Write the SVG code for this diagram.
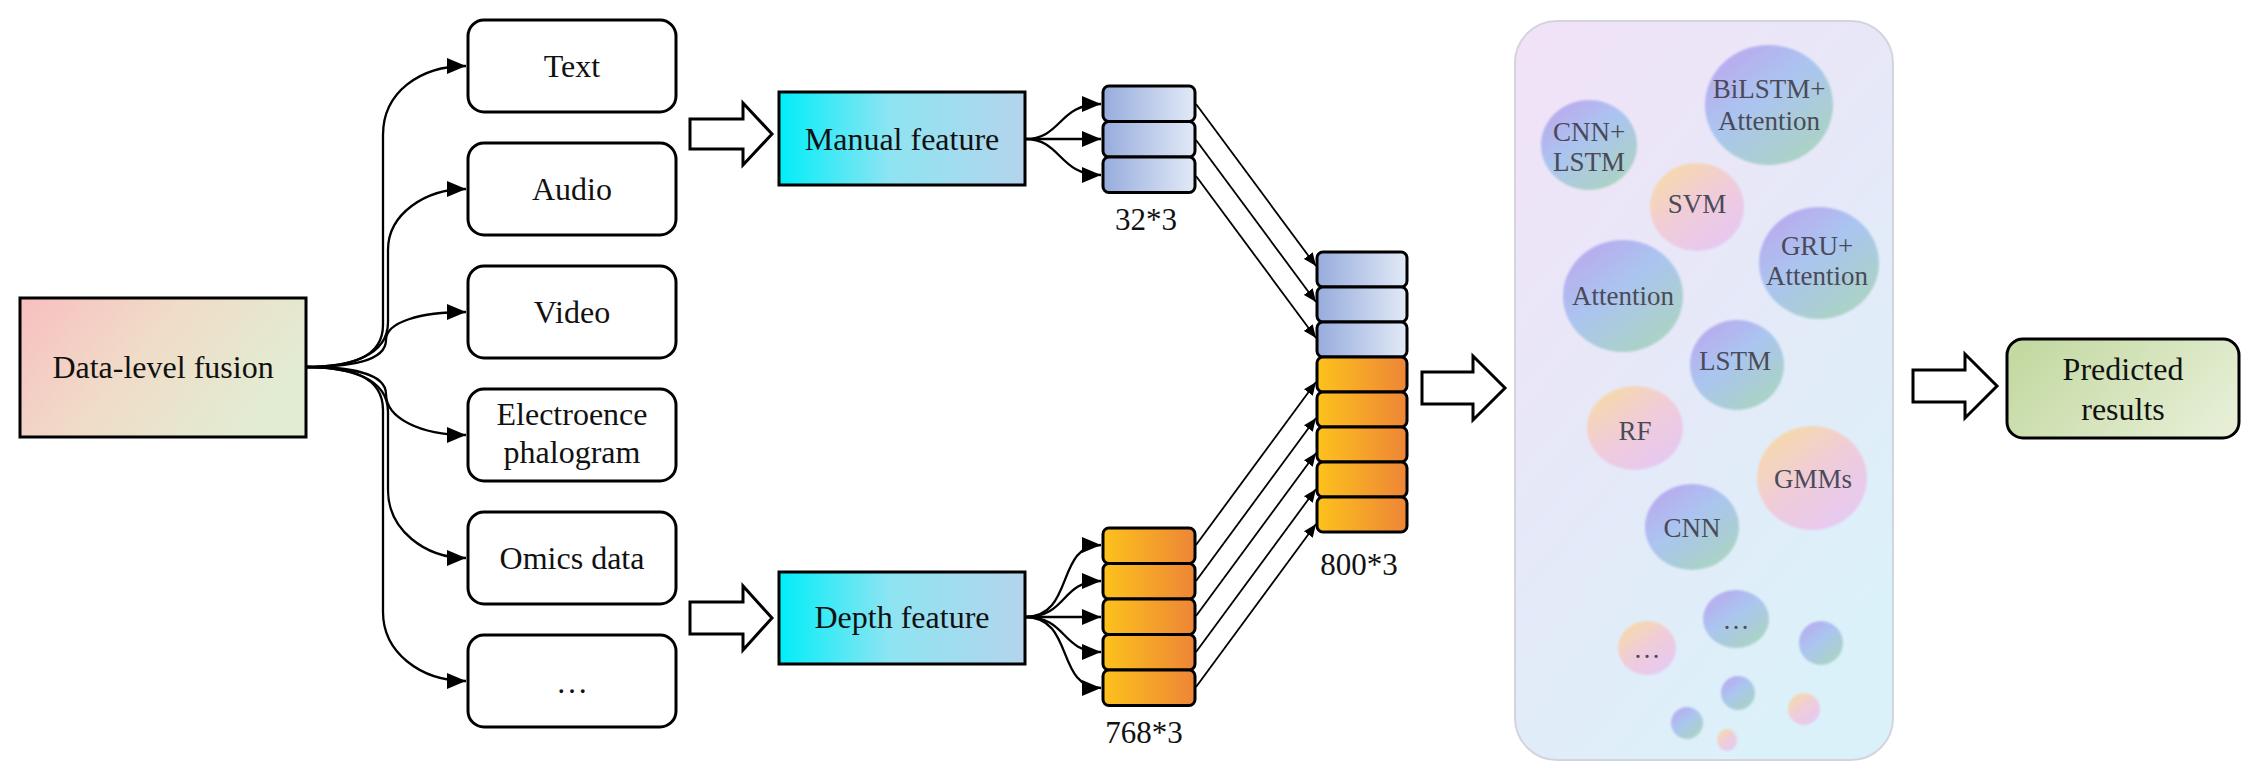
<svg xmlns="http://www.w3.org/2000/svg" width="2253" height="780" viewBox="0 0 2253 780">
<style>
.box{fill:#fff;stroke:#000;stroke-width:3}
.t{font-family:"Liberation Serif","Times New Roman",serif;font-size:32px;fill:#111;text-anchor:middle}
.n{font-family:"Liberation Serif","Times New Roman",serif;font-size:31px;fill:#111;text-anchor:middle}
.c{font-family:"Liberation Serif","Times New Roman",serif;font-size:27px;fill:#4a4a58;text-anchor:middle}
.fan{fill:none;stroke:#000;stroke-width:2.3;marker-end:url(#ah)}
.thin{fill:none;stroke:#000;stroke-width:1.8;marker-end:url(#ahs)}
.blk{fill:#fff;stroke:#000;stroke-width:3;stroke-linejoin:miter}
.rowb{fill:url(#gBlue);stroke:#000;stroke-width:3}
.rowo{fill:url(#gOrange);stroke:#000;stroke-width:3}
.bub{fill:url(#gBub)}
.warm{fill:url(#gWarm)}
</style>
<defs>
<marker id="ah" markerUnits="userSpaceOnUse" markerWidth="20" markerHeight="16" refX="19" refY="8" orient="auto">
<path d="M0,0 L19,8 L0,16 z" fill="#000"/>
</marker>
<marker id="ahs" markerUnits="userSpaceOnUse" markerWidth="14" markerHeight="11" refX="13" refY="5.5" orient="auto">
<path d="M0,0 L13,5.5 L0,11 z" fill="#000"/>
</marker>
<linearGradient id="gFusion" x1="0" y1="0" x2="1" y2="0.4">
<stop offset="0" stop-color="#f8bfc0"/><stop offset="0.5" stop-color="#f0dcc8"/><stop offset="1" stop-color="#e2ecd2"/>
</linearGradient>
<linearGradient id="gCyan" x1="0" y1="0" x2="1" y2="0">
<stop offset="0" stop-color="#00eef8"/><stop offset="0.45" stop-color="#8ee4f2"/><stop offset="1" stop-color="#b4d4ec"/>
</linearGradient>
<linearGradient id="gBlue" x1="0" y1="0" x2="1" y2="0">
<stop offset="0" stop-color="#97acdc"/><stop offset="1" stop-color="#e2eaf7"/>
</linearGradient>
<linearGradient id="gOrange" x1="0" y1="0" x2="1" y2="0">
<stop offset="0" stop-color="#fdc21c"/><stop offset="1" stop-color="#ed8537"/>
</linearGradient>
<linearGradient id="gPred" x1="0" y1="0.3" x2="1" y2="0.7">
<stop offset="0" stop-color="#c4d9a2"/><stop offset="1" stop-color="#e6efd6"/>
</linearGradient>
<linearGradient id="gPanel" x1="0" y1="0" x2="0.6" y2="1">
<stop offset="0" stop-color="#f2e2f7"/><stop offset="0.5" stop-color="#e6e8f8"/><stop offset="1" stop-color="#dbf1fa"/>
</linearGradient>
<linearGradient id="gBub" x1="0.1" y1="0.05" x2="0.8" y2="0.95">
<stop offset="0" stop-color="#b8a2ee"/><stop offset="0.45" stop-color="#a6c2f0"/><stop offset="1" stop-color="#a6d2be"/>
</linearGradient>
<linearGradient id="gWarm" x1="0.1" y1="0.05" x2="0.8" y2="0.95">
<stop offset="0" stop-color="#f8daa0"/><stop offset="0.5" stop-color="#f2cad6"/><stop offset="1" stop-color="#e6c6f2"/>
</linearGradient>
<filter id="soft" x="-10%" y="-10%" width="120%" height="120%"><feGaussianBlur stdDeviation="1.2"/></filter>
</defs>
<rect width="2253" height="780" fill="#fff"/>

<g id="connectors">
<path class="fan" d="M305,367 C350,367 383,358 383,325 L383,135 C383,92 420,66 466,66"/>
<path class="fan" d="M305,367 C350,367 388,356 388,322 L388,250 C388,214 425,189 466,189"/>
<path class="fan" d="M305,367 C348,367 386,362 386,340 C386,322 420,312 466,312"/>
<path class="fan" d="M305,367 C348,367 386,372 386,394 C386,418 420,435 466,435"/>
<path class="fan" d="M305,367 C350,367 388,378 388,412 L388,490 C388,530 425,558 466,558"/>
<path class="fan" d="M305,367 C350,367 383,376 383,410 L383,612 C383,652 420,681 466,681"/>

<path class="fan" d="M1025,139 C1062,139 1058,104 1101,104"/>
<path class="fan" d="M1025,139 L1101,139"/>
<path class="fan" d="M1025,139 C1062,139 1058,175 1101,175"/>

<path class="fan" d="M1025,617 C1075,617 1055,545 1101,545"/>
<path class="fan" d="M1025,617 C1068,617 1060,581 1101,581"/>
<path class="fan" d="M1025,617 L1101,617"/>
<path class="fan" d="M1025,617 C1068,617 1060,652 1101,652"/>
<path class="fan" d="M1025,617 C1075,617 1055,688 1101,688"/>

<path class="thin" d="M1196,104 L1316,266"/>
<path class="thin" d="M1196,140 L1316,302"/>
<path class="thin" d="M1196,176 L1316,338"/>

<path class="thin" d="M1196,545 L1316,382"/>
<path class="thin" d="M1196,581 L1316,418"/>
<path class="thin" d="M1196,616 L1316,453"/>
<path class="thin" d="M1196,652 L1316,489"/>
<path class="thin" d="M1196,687 L1316,524"/>

<polygon class="blk" points="690,119 743,119 743,103 772,134 743,165 743,149 690,149"/>
<polygon class="blk" points="690,602 743,602 743,586 772,618 743,650 743,634 690,634"/>
<polygon class="blk" points="1422,372 1473,372 1473,356 1505,388 1473,420 1473,404 1422,404"/>
<polygon class="blk" points="1913,370 1965,370 1965,354 1997,386 1965,418 1965,402 1913,402"/>
</g>

<g id="fusion">
<rect x="20" y="298" width="286" height="139" fill="url(#gFusion)" stroke="#000" stroke-width="3"/>
<text class="t" x="163" y="378">Data-level fusion</text>
</g>

<g id="text-node"><rect class="box" x="468" y="20" width="208" height="92" rx="16"/><text class="t" x="572" y="77">Text</text></g>
<g id="audio-node"><rect class="box" x="468" y="143" width="208" height="92" rx="16"/><text class="t" x="572" y="200">Audio</text></g>
<g id="video-node"><rect class="box" x="468" y="266" width="208" height="92" rx="16"/><text class="t" x="572" y="323">Video</text></g>
<g id="eeg-node"><rect class="box" x="468" y="389" width="208" height="92" rx="16"/><text class="t" x="572" y="425">Electroence</text><text class="t" x="572" y="463">phalogram</text></g>
<g id="omics-node"><rect class="box" x="468" y="512" width="208" height="92" rx="16"/><text class="t" x="572" y="569">Omics data</text></g>
<g id="more-node"><rect class="box" x="468" y="635" width="208" height="92" rx="16"/><text class="t" x="572" y="693">…</text></g>

<g id="manual-feature">
<rect x="779" y="92" width="246" height="93" fill="url(#gCyan)" stroke="#000" stroke-width="3"/>
<text class="t" x="902" y="150">Manual feature</text>
</g>
<g id="depth-feature">
<rect x="779" y="572" width="246" height="92" fill="url(#gCyan)" stroke="#000" stroke-width="3"/>
<text class="t" x="902" y="628">Depth feature</text>
</g>

<g id="stack-32">
<rect class="rowb" x="1103" y="86" width="92" height="35.5" rx="6"/>
<rect class="rowb" x="1103" y="121.5" width="92" height="35.5" rx="6"/>
<rect class="rowb" x="1103" y="157" width="92" height="35.5" rx="6"/>
<text class="n" x="1146" y="230">32*3</text>
</g>
<g id="stack-768">
<rect class="rowo" x="1103" y="528" width="92" height="35.5" rx="6"/>
<rect class="rowo" x="1103" y="563.5" width="92" height="35.5" rx="6"/>
<rect class="rowo" x="1103" y="599" width="92" height="35.5" rx="6"/>
<rect class="rowo" x="1103" y="634.5" width="92" height="35.5" rx="6"/>
<rect class="rowo" x="1103" y="670" width="92" height="35.5" rx="6"/>
<text class="n" x="1144" y="743">768*3</text>
</g>
<g id="stack-800">
<rect class="rowb" x="1317" y="252" width="90" height="35" rx="6"/>
<rect class="rowb" x="1317" y="287" width="90" height="35" rx="6"/>
<rect class="rowb" x="1317" y="322" width="90" height="35" rx="6"/>
<rect class="rowo" x="1317" y="357" width="90" height="35" rx="6"/>
<rect class="rowo" x="1317" y="392" width="90" height="35" rx="6"/>
<rect class="rowo" x="1317" y="427" width="90" height="35" rx="6"/>
<rect class="rowo" x="1317" y="462" width="90" height="35" rx="6"/>
<rect class="rowo" x="1317" y="497" width="90" height="35" rx="6"/>
<text class="n" x="1359" y="575">800*3</text>
</g>

<g id="models-panel">
<rect x="1515" y="21" width="378" height="739" rx="42" fill="url(#gPanel)" stroke="#d4d4de" stroke-width="2"/>
<g filter="url(#soft)" opacity="0.92">
<ellipse class="bub" cx="1589" cy="145" rx="48" ry="45"/>
<ellipse class="bub" cx="1769" cy="105" rx="64" ry="60"/>
<ellipse class="warm" cx="1697" cy="207" rx="47" ry="44"/>
<ellipse class="bub" cx="1819" cy="263" rx="60" ry="56"/>
<ellipse class="bub" cx="1623" cy="296" rx="60" ry="56"/>
<ellipse class="bub" cx="1737" cy="365" rx="47" ry="45"/>
<ellipse class="warm" cx="1635" cy="428" rx="48" ry="42"/>
<ellipse class="warm" cx="1812" cy="478" rx="55" ry="52"/>
<ellipse class="bub" cx="1692" cy="527" rx="47" ry="43"/>
<ellipse class="warm" cx="1647" cy="648" rx="29" ry="27"/>
<ellipse class="bub" cx="1736" cy="619" rx="33" ry="29"/>
<ellipse class="bub" cx="1821" cy="643" rx="22" ry="22"/>
<ellipse class="bub" cx="1738" cy="693" rx="17" ry="17"/>
<ellipse class="warm" cx="1804" cy="709" rx="16" ry="16"/>
<ellipse class="bub" cx="1687" cy="723" rx="16" ry="16"/>
<ellipse class="warm" cx="1727" cy="740" rx="10" ry="11"/>
</g>
<text class="c" x="1589" y="141">CNN+</text><text class="c" x="1589" y="171">LSTM</text>
<text class="c" x="1769" y="98">BiLSTM+</text><text class="c" x="1769" y="130">Attention</text>
<text class="c" x="1697" y="213">SVM</text>
<text class="c" x="1817" y="255">GRU+</text><text class="c" x="1817" y="285">Attention</text>
<text class="c" x="1623" y="305">Attention</text>
<text class="c" x="1735" y="370">LSTM</text>
<text class="c" x="1635" y="440">RF</text>
<text class="c" x="1813" y="488">GMMs</text>
<text class="c" x="1692" y="537">CNN</text>
<text class="c" x="1647" y="658" font-size="22">…</text>
<text class="c" x="1736" y="629" font-size="22">…</text>
</g>

<g id="predicted">
<rect x="2007" y="339" width="232" height="99" rx="16" fill="url(#gPred)" stroke="#000" stroke-width="3"/>
<text class="t" x="2123" y="380" font-size="31">Predicted</text>
<text class="t" x="2123" y="420" font-size="31">results</text>
</g>
</svg>
